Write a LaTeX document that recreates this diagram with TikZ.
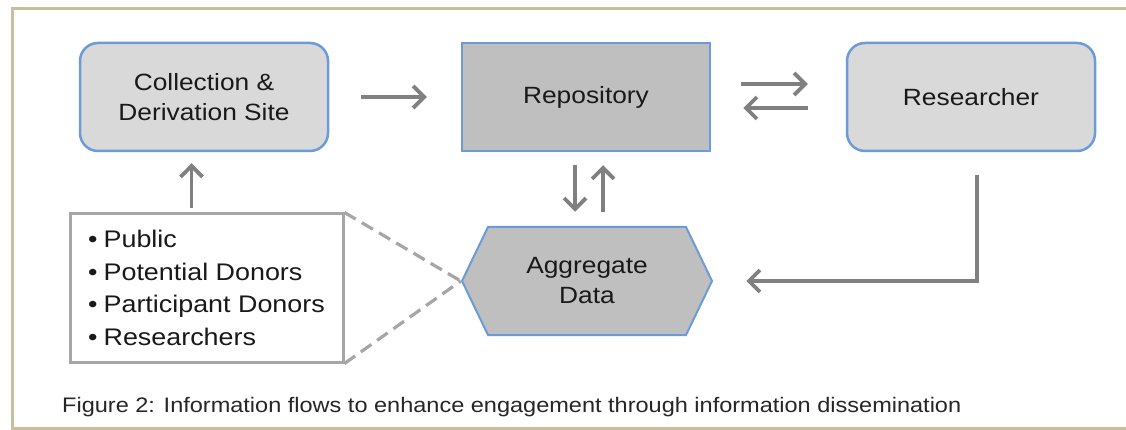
\documentclass[tikz,border=0pt]{standalone}
\usepackage{fontspec}
\setmainfont{Liberation Sans}[FakeStretch=1.12]
\usepackage{tikz}
\usetikzlibrary{arrows.meta, positioning, calc, shadows}
\definecolor{framebeige}{RGB}{201,192,155}
\definecolor{boxblue}{RGB}{108,155,216}
\definecolor{lightgrey}{RGB}{217,217,217}
\definecolor{midgrey}{RGB}{191,191,191}
\definecolor{arrowgrey}{RGB}{128,128,128}
\definecolor{dashgrey}{RGB}{166,166,166}
\tikzset{
  % Riquadri del flusso
  box/.style={draw=boxblue,line width=2.5pt,minimum width=248pt,minimum height=108pt,
    align=center,inner sep=0pt,text=black!90,font=\fontsize{23.5}{30}\selectfont},
  box round/.style={box,fill=lightgrey,rounded corners=18pt},
  box repo/.style={box,fill=midgrey},
  box hex/.style={draw=boxblue,line width=2pt,fill=midgrey,line join=miter},
  box list/.style={draw=dashgrey,line width=3pt,fill=white,minimum width=273pt,
    minimum height=148pt,align=left,inner sep=0pt,text=black!90,
    font=\fontsize{24}{32.5}\selectfont,
    drop shadow={shadow xshift=2pt,shadow yshift=-2pt,opacity=0.25}},
  % Connessioni
  connect arrow/.style={-{Straight Barb[length=11pt,width=22pt]},line width=3.8pt,arrowgrey},
  connect dash/.style={dashgrey,line width=3.2pt,dash pattern=on 13pt off 7pt}
}

\begin{document}
\begin{tikzpicture}[x=1pt,y=-1pt]
  \useasboundingbox (0,0) rectangle (1126,430);
  % Cornice
  \draw[framebeige,line width=3pt,fill=white] (12,9) rectangle (1140,428);
  % Riquadri
  \node[box round] (site) at (204,97) {Collection \&\\Derivation Site};
  \node[box repo] (repo) at (586,97) {Repository};
  \node[box round] (res) at (971,97) {Researcher};
  % Esagono dei dati aggregati
  \draw[box hex] (462,281) -- (488,227) -- (686,227) -- (712,281)
    -- (686,335) -- (488,335) -- cycle;
  \node[box,draw=none,minimum width=250pt] (agg) at (587,281) {Aggregate\\Data};
  % Elenco dei destinatari
  \node[box list] (list) at (206.5,288)
    {\textbullet\hspace{6pt}Public\\\textbullet\hspace{6pt}Potential Donors\\
     \textbullet\hspace{6pt}Participant Donors\\\textbullet\hspace{6pt}Researchers};
  % Frecce
  \draw[connect arrow,shorten <=32pt,shorten >=34pt] (site) -- (repo);
  \draw[connect arrow,shorten <=30pt,shorten >=38pt]
    ([yshift=13pt]repo.east) -- ([yshift=13pt]res.west);
  \draw[connect arrow,shorten <=38pt,shorten >=32pt]
    ([yshift=-11pt]res.west) -- ([yshift=-11pt]repo.east);
  \draw[connect arrow,shorten <=13pt,shorten >=14pt]
    ([xshift=-11pt]repo.south) -- ([xshift=-12pt]agg.north);
  \draw[connect arrow,shorten <=14pt,shorten >=13pt]
    ([xshift=16pt]agg.north) -- ([xshift=17pt]repo.south);
  \draw[connect arrow,shorten <=23pt,shorten >=33pt]
    ([xshift=6pt]res.south) |- (agg.east);
  \draw[connect arrow,shorten <=4pt,shorten >=11pt]
    ([xshift=-15pt]list.north) -- ([xshift=-15pt]list.north |- site.south);
  % Linee tratteggiate
  \draw[connect dash] (list.north east) -- (agg.west);
  \draw[connect dash] (list.south east) -- (agg.west);
  % Didascalia
  \node[anchor=base west,inner sep=0pt,text=black!85,font=\fontsize{21}{25}\selectfont]
    (caption) at (62,412)
    {Figure 2: Information flows to enhance engagement through information dissemination};
\end{tikzpicture}
\end{document}
